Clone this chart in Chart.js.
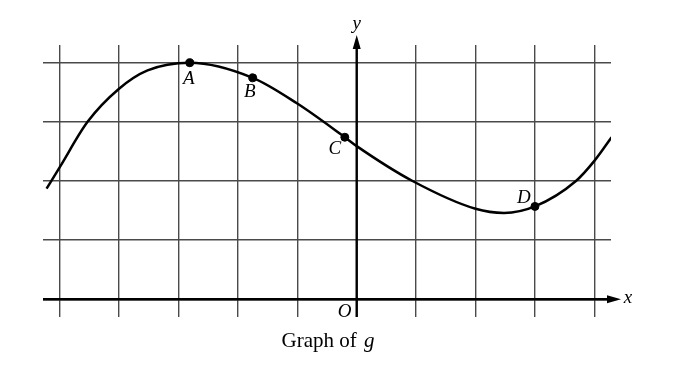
<!DOCTYPE html>
<html>
<head>
<meta charset="utf-8">
<script src="https://cdn.jsdelivr.net/npm/chart.js@4.4.1/dist/chart.umd.min.js"></script>
<style>
  html, body { margin: 0; padding: 0; background: #fff; }
  #graphG { display: block; }
</style>
</head>
<body>
<canvas id="graphG" width="692" height="369"></canvas>
<script>
// values (one grid square = 1 unit)
const curveX = [-5.22, -5, -4.53, -4, -3.52, -2.81, -1.75, -1, -0.2, 0, 0.94, 2, 2.48, 3, 3.69, 4, 4.29];
const curveY = [1.87, 2.23, 3.0, 3.56, 3.87, 4.0, 3.745, 3.31, 2.74, 2.59, 2.0, 1.53, 1.46, 1.57, 2.0, 2.34, 2.74];

const pointNames = ['A', 'B', 'C', 'D'];
const pointX = [-2.81, -1.75, -0.2, 3.0];
const pointY = [4.0, 3.745, 2.74, 1.57];

const xGrid = [-5, -4, -3, -2, -1, 0, 1, 2, 3, 4];
const yGrid = [0, 1, 2, 3, 4];
const chartTitle = 'Graph of ';
const funcName = 'g';

// label offsets from each point (pixels)
const labelOffsets = {A: [-1, 16], B: [-3, 14], C: [-10, 12], D: [-11, -8]};

const curveData = curveX.map((x, i) => ({x: x, y: curveY[i]}));
const pointData = pointX.map((x, i) => ({x: x, y: pointY[i]}));

// draws the axes with arrows and all the italic letters
const axesPlugin = {
    id: 'axesPlugin',
    beforeDatasetsDraw(chart) {
        const ctx = chart.ctx;
        const xs = chart.scales.x;
        const ys = chart.scales.y;
        const ox = xs.getPixelForValue(0);
        const oy = ys.getPixelForValue(0);
        const area = chart.chartArea;
        ctx.save();
        ctx.strokeStyle = '#000';
        ctx.fillStyle = '#000';
        ctx.lineWidth = 2.4;
        // x axis
        ctx.beginPath();
        ctx.moveTo(area.left, oy);
        ctx.lineTo(area.right + 2, oy);
        ctx.stroke();
        ctx.beginPath();
        ctx.moveTo(area.right + 10, oy);
        ctx.lineTo(area.right - 4, oy - 4);
        ctx.lineTo(area.right - 4, oy + 4);
        ctx.closePath();
        ctx.fill();
        // y axis
        ctx.beginPath();
        ctx.moveTo(ox, area.bottom);
        ctx.lineTo(ox, area.top - 2);
        ctx.stroke();
        ctx.beginPath();
        ctx.moveTo(ox, area.top - 10);
        ctx.lineTo(ox - 4, area.top + 4);
        ctx.lineTo(ox + 4, area.top + 4);
        ctx.closePath();
        ctx.fill();
        ctx.restore();
    },
    afterDraw(chart) {
        const ctx = chart.ctx;
        const xs = chart.scales.x;
        const ys = chart.scales.y;
        const ox = xs.getPixelForValue(0);
        const oy = ys.getPixelForValue(0);
        const area = chart.chartArea;
        ctx.save();
        ctx.fillStyle = '#000';
        ctx.textAlign = 'center';
        ctx.textBaseline = 'middle';
        ctx.font = 'italic 19px "Liberation Serif"';
        ctx.fillText('x', area.right + 17, oy - 1);
        ctx.fillText('y', ox, area.top - 21);
        ctx.fillText('O', ox - 12, oy + 13);
        pointNames.forEach((name, i) => {
            const px = xs.getPixelForValue(pointX[i]);
            const py = ys.getPixelForValue(pointY[i]);
            const off = labelOffsets[name];
            ctx.fillText(name, px + off[0], py + off[1]);
        });
        // title under the graph
        ctx.font = '21px "Liberation Serif"';
        const w1 = ctx.measureText(chartTitle).width;
        ctx.font = 'italic 21px "Liberation Serif"';
        const w2 = ctx.measureText(funcName).width;
        const start = 327 - (w1 + w2) / 2;
        ctx.textAlign = 'left';
        ctx.font = '21px "Liberation Serif"';
        ctx.fillText(chartTitle, start, 341);
        ctx.font = 'italic 21px "Liberation Serif"';
        ctx.fillText(funcName, start + w1 + 2, 341);
        ctx.restore();
    }
};

const chart = new Chart(document.getElementById('graphG'), {
    type: 'scatter',
    data: {
        datasets: [{
            data: curveData,
            showLine: true,
            borderColor: '#000',
            borderWidth: 2.5,
            pointRadius: 0,
            cubicInterpolationMode: 'monotone',
            fill: false
        }, {
            data: pointData,
            showLine: false,
            pointRadius: 4,
            pointBackgroundColor: '#000',
            pointBorderColor: '#000'
        }]
    },
    options: {
        responsive: false,
        animation: false,
        layout: {padding: {left: 43, right: 81, top: 45, bottom: 52}},
        plugins: {legend: {display: false}, tooltip: {enabled: false}},
        scales: {
            x: {
                type: 'linear',
                min: -5.28,
                max: 4.28,
                afterBuildTicks: (scale) => { scale.ticks = xGrid.map(v => ({value: v})); },
                ticks: {display: false},
                border: {display: false},
                grid: {color: '#4a4a4a', lineWidth: 1.4, drawTicks: false}
            },
            y: {
                type: 'linear',
                min: -0.3,
                max: 4.3,
                afterBuildTicks: (scale) => { scale.ticks = yGrid.map(v => ({value: v})); },
                ticks: {display: false},
                border: {display: false},
                grid: {color: '#4a4a4a', lineWidth: 1.4, drawTicks: false}
            }
        }
    },
    plugins: [axesPlugin]
});
</script>
</body>
</html>
